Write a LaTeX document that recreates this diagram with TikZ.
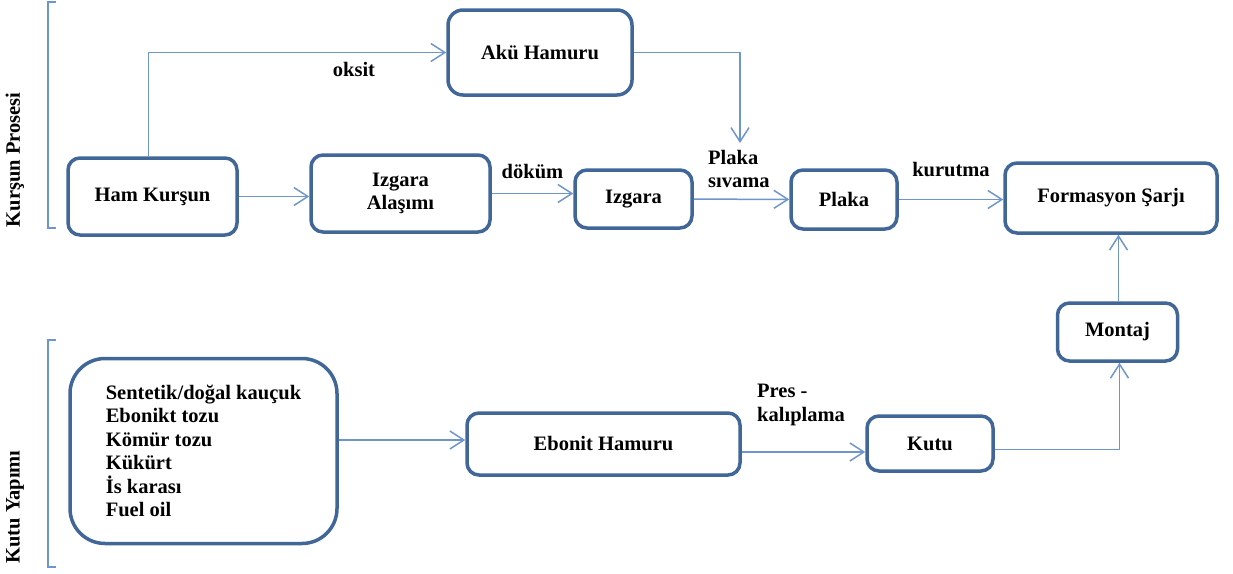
\documentclass[tikz,border=0pt]{standalone}
\usepackage{fontspec}
\setmainfont{Liberation Serif}
\usetikzlibrary{arrows.meta,positioning}

\definecolor{boxblue}{RGB}{65,103,152}
\definecolor{lineblue}{RGB}{110,150,205}

\begin{document}
\begin{tikzpicture}[
    x=1pt, y=-1pt,
    >={Straight Barb[length=14pt,width=18pt]},
    box/.style={rectangle, rounded corners=12pt, draw=boxblue,
                line width=3.5pt, fill=white, inner sep=0pt,
                align=center, font=\bfseries\fontsize{20.5}{23.5}\selectfont},
    flow/.style={->, draw=lineblue, line width=1.5pt},
    lab/.style={font=\bfseries\fontsize{20.5}{23.5}\selectfont, inner sep=0pt},
    side/.style={lab, rotate=90}
]
\useasboundingbox (0,0) rectangle (1233,573);

% =========================
% 1) KURSUN PROSESI (TOP)
% =========================
\node[box, minimum width=169pt, minimum height=77pt] (ham)       at (152.5,196.5) {Ham Kurşun};
\node[box, minimum width=179pt, minimum height=77pt] (izal)      at (400.5,193.5) {Izgara\\Alaşımı};
\node[box, minimum width=184pt, minimum height=85pt,
      rounded corners=15pt]                          (aku)       at (540,52.5)    {Akü Hamuru};
\node[box, minimum width=117pt, minimum height=58pt] (izgara)    at (633.5,199)   {Izgara};
\node[box, minimum width=106pt, minimum height=59pt] (plaka)     at (844,199.5)   {Plaka};
\node[box, minimum width=212pt, minimum height=70pt] (formasyon) at (1111,198)    {Formasyon Şarjı};
\coordinate (sivama) at (740,143);

\draw[flow] (ham) -- (ham -| izal.west);
\draw[flow] ([xshift=-4pt]ham.north) |- (aku.west)
    node[pos=0.845, below=9pt, lab, text=black] (oksit) {oksit};
\draw[flow] (aku.east) -| (sivama);
\draw[flow] (izal) -- (izal -| izgara.west)
    node[midway, above=14pt, lab] (dokum) {döküm};
\draw[flow] (izgara) -- (plaka);
\node[lab, align=left, anchor=west] (plsiv) at (708,169) {Plaka\\sıvama};
\draw[flow] (plaka) -- (plaka -| formasyon.west)
    node[midway, above=22pt, lab] (kurutma) {kurutma};

% =========================
% 2) KUTU YAPIMI (BOTTOM)
% =========================
\node[box, minimum width=267pt, minimum height=185pt,
      rounded corners=35pt, align=left]              (sentetik)  at (203.5,451)
    {Sentetik/doğal kauçuk\\Ebonikt tozu\\Kömür tozu\\Kükürt\\İs karası\\Fuel oil};
\node[box, minimum width=273pt, minimum height=62pt] (ebonit)    at (603.5,444)   {Ebonit Hamuru};
\node[box, minimum width=126pt, minimum height=55pt] (kutu)      at (930,443.5)   {Kutu};
\node[box, minimum width=120pt, minimum height=58pt] (montaj)    at (1117.5,332)  {Montaj};

\draw[flow] ([yshift=4pt]ebonit.west -| sentetik.east) -- ([yshift=4pt]ebonit.west);
\draw[flow] ([yshift=-8pt]ebonit.east) -- ([yshift=-8pt]ebonit.east -| kutu.west);
\node[lab, align=left, anchor=west] (pres) at (757,405) {Pres -\\kalıplama};
\draw[flow] ([yshift=-6pt]kutu.east) -| ([xshift=2pt]montaj.south);
\draw[flow] ([xshift=1pt]montaj.north) -- ([xshift=1pt]montaj.north |- formasyon.south);

% side brackets and titles
\draw[lineblue, line width=1.2pt] (56,2) -- (48,2) -- (48,228) -- (56,228);
\draw[lineblue, line width=1.2pt] (56,340) -- (48,340) -- (48,567) -- (56,567);
\node[side] (kursun) at (15,160) {Kurşun Prosesi};
\node[side] (kutuyap) at (15,507) {Kutu Yapımı};

\end{tikzpicture}
\end{document}
